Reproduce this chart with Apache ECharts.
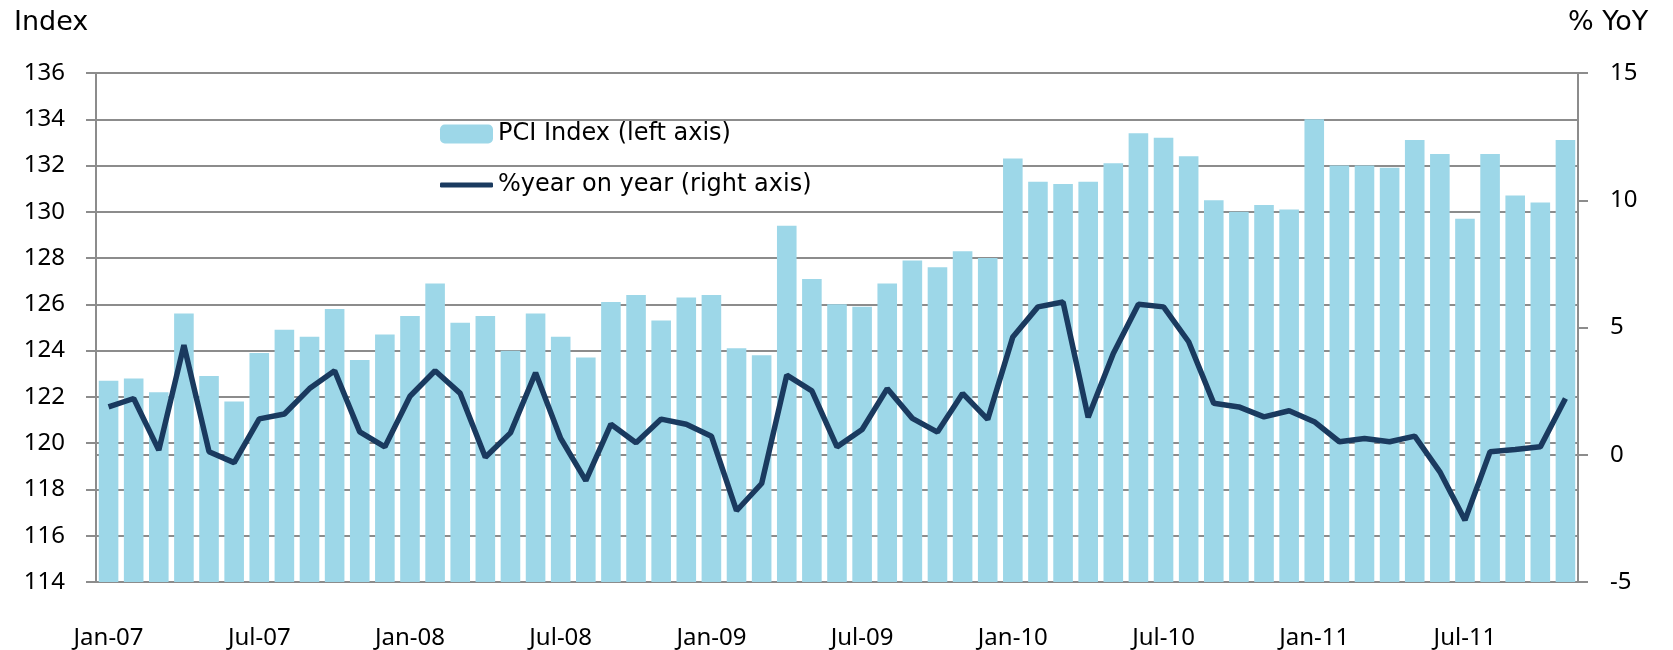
<!DOCTYPE html>
<html>
<head>
<meta charset="utf-8">
<script src="https://cdn.jsdelivr.net/npm/echarts@6/dist/echarts.min.js"></script>
<style>
  html, body { margin: 0; padding: 0; background: #fff; }
  #chart { width: 1673px; height: 650px; }
</style>
</head>
<body>
<div id="chart"></div>
<script>
// monthly categories Jan-07 .. Nov-11
const months = ['Jan', 'Feb', 'Mar', 'Apr', 'May', 'Jun', 'Jul', 'Aug', 'Sep', 'Oct', 'Nov', 'Dec']
const years = ['07', '08', '09', '10', '11']
const categories = []
years.forEach(y => months.forEach(m => categories.push(m + '-' + y)))
categories.pop() // no Dec-11

// PCI index (left axis)
const pciIndex = [
  122.7, 122.8, 122.2, 125.6, 122.9, 121.8, 123.9, 124.9, 124.6, 125.8, 123.6, 124.7,
  125.5, 126.9, 125.2, 125.5, 124.0, 125.6, 124.6, 123.7, 126.1, 126.4, 125.3, 126.3,
  126.4, 124.1, 123.8, 129.4, 127.1, 126.0, 125.9, 126.9, 127.9, 127.6, 128.3, 128.0,
  132.3, 131.3, 131.2, 131.3, 132.1, 133.4, 133.2, 132.4, 130.5, 130.0, 130.3, 130.1,
  134.0, 132.0, 132.0, 131.9, 133.1, 132.5, 129.7, 132.5, 130.7, 130.4, 133.1
]

// % year on year (right axis)
const yoy = [
  1.88, 2.21, 0.18, 4.31, 0.12, -0.31, 1.41, 1.60, 2.60, 3.30, 0.90, 0.31,
  2.30, 3.30, 2.41, -0.10, 0.86, 3.22, 0.64, -1.02, 1.20, 0.47, 1.40, 1.20,
  0.73, -2.20, -1.13, 3.13, 2.51, 0.31, 0.99, 2.60, 1.43, 0.89, 2.41, 1.39,
  4.63, 5.81, 6.00, 1.47, 3.98, 5.91, 5.81, 4.44, 2.02, 1.88, 1.49, 1.73,
  1.30, 0.51, 0.64, 0.51, 0.73, -0.67, -2.57, 0.12, 0.21, 0.31, 2.21
]

const barColor = '#9dd7e8'
const lineColor = '#1a3a5f'
const gridColor = '#8c8c8c'
const font = 'Noto Sans'
const legendFont = 'DejaVu Sans'

const chart = echarts.init(document.getElementById('chart'))

chart.setOption({
  animation: false,
  textStyle: { fontFamily: font },
  grid: { left: 96, right: 95, top: 73, bottom: 68 },
  graphic: [
    { type: 'text', left: 14, top: 9, style: { text: 'Index', font: '27px "DejaVu Sans"', fill: '#000' } },
    { type: 'text', left: 1568, top: 9, style: { text: '% YoY', font: '27px "DejaVu Sans"', fill: '#000' } }
  ],
  legend: [
    {
      data: ['PCI Index (left axis)'],
      left: 440, top: 122, padding: 0,
      itemWidth: 53, itemHeight: 19, itemGap: 4,
      textStyle: { fontSize: 24, color: '#000', fontFamily: legendFont }
    },
    {
      data: [{ name: '%year on year (right axis)', icon: 'roundRect' }],
      left: 440, top: 173, padding: 0,
      itemWidth: 53, itemHeight: 5, itemGap: 4,
      textStyle: { fontSize: 24, color: '#000', fontFamily: legendFont }
    }
  ],
  xAxis: {
    type: 'category',
    data: categories,
    boundaryGap: true,
    axisLine: { lineStyle: { color: gridColor, width: 2 } },
    axisTick: { interval: 5, length: 10, lineStyle: { color: gridColor, width: 2 } },
    axisLabel: { interval: 5, margin: 44, fontSize: 24, color: '#000', fontFamily: font }
  },
  yAxis: [
    {
      type: 'value',
      min: 114, max: 136, interval: 2,
      axisLine: { show: true, lineStyle: { color: gridColor, width: 2 } },
      axisTick: { show: true, length: 10, lineStyle: { color: gridColor, width: 2 } },
      axisLabel: { margin: 31, fontSize: 24, color: '#000', fontFamily: font },
      splitLine: { lineStyle: { color: gridColor, width: 2 } }
    },
    {
      type: 'value',
      min: -5, max: 15, interval: 5,
      axisLine: { show: true, lineStyle: { color: gridColor, width: 2 } },
      axisTick: { show: true, length: 10, lineStyle: { color: gridColor, width: 2 } },
      axisLabel: { margin: 32, fontSize: 24, color: '#000', fontFamily: font },
      splitLine: { show: false }
    }
  ],
  series: [
    {
      name: 'PCI Index (left axis)',
      type: 'bar',
      data: pciIndex,
      barWidth: '78%',
      itemStyle: { color: barColor }
    },
    {
      name: '%year on year (right axis)',
      type: 'line',
      yAxisIndex: 1,
      data: yoy,
      symbol: 'none',
      lineStyle: { color: lineColor, width: 5.5 },
      itemStyle: { color: lineColor }
    }
  ]
})
</script>
</body>
</html>
